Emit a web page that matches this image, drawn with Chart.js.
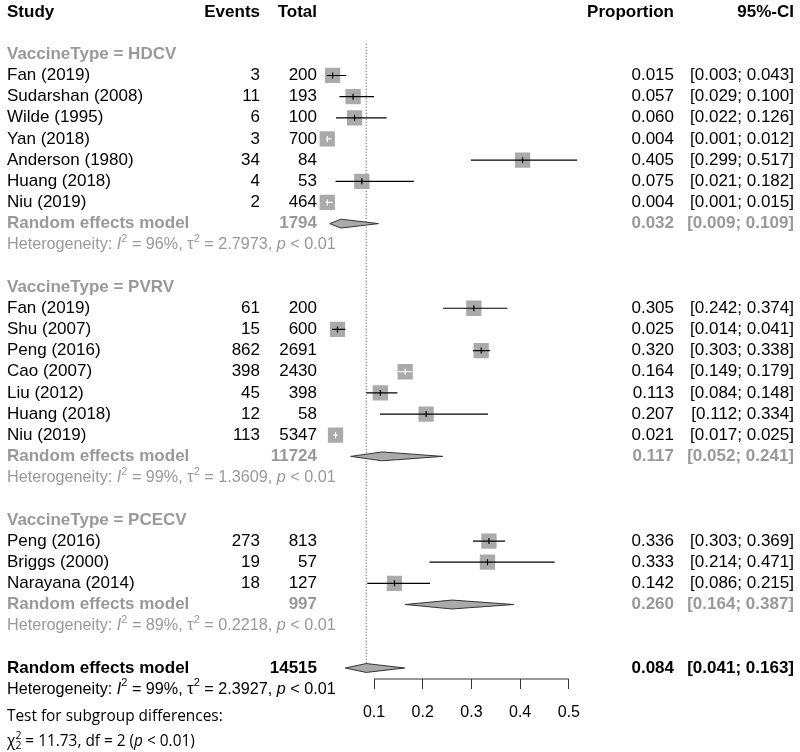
<!DOCTYPE html>
<html>
<head>
<meta charset="utf-8">
<script src="https://cdn.jsdelivr.net/npm/chart.js@4.4.1/dist/chart.umd.min.js"></script>
<style>
  html, body { margin: 0; padding: 0; background: #fff; }
  #wrap { width: 800px; height: 752px; position: relative; }
</style>
</head>
<body>
<div id="wrap"><canvas id="chart"></canvas></div>
<script>
// data
const groupNames = ["HDCV", "PVRV", "PCECV"];
const studyNames = [
  ["Fan (2019)", "Sudarshan (2008)", "Wilde (1995)", "Yan (2018)", "Anderson (1980)", "Huang (2018)", "Niu (2019)"],
  ["Fan (2019)", "Shu (2007)", "Peng (2016)", "Cao (2007)", "Liu (2012)", "Huang (2018)", "Niu (2019)"],
  ["Peng (2016)", "Briggs (2000)", "Narayana (2014)"]
];
const events = [[3, 11, 6, 3, 34, 4, 2], [61, 15, 862, 398, 45, 12, 113], [273, 19, 18]];
const totals = [[200, 193, 100, 700, 84, 53, 464], [200, 600, 2691, 2430, 398, 58, 5347], [813, 57, 127]];
const proportions = [
  [0.015, 0.057, 0.060, 0.004, 0.405, 0.075, 0.004],
  [0.305, 0.025, 0.320, 0.164, 0.113, 0.207, 0.021],
  [0.336, 0.333, 0.142]
];
const lowerCI = [
  [0.003, 0.029, 0.022, 0.001, 0.299, 0.021, 0.001],
  [0.242, 0.014, 0.303, 0.149, 0.084, 0.112, 0.017],
  [0.303, 0.214, 0.086]
];
const upperCI = [
  [0.043, 0.100, 0.126, 0.012, 0.517, 0.182, 0.015],
  [0.374, 0.041, 0.338, 0.179, 0.148, 0.334, 0.025],
  [0.369, 0.471, 0.215]
];

const subTotals = [1794, 11724, 997];
const subEst = [0.032, 0.117, 0.260];
const subLower = [0.009, 0.052, 0.164];
const subUpper = [0.109, 0.241, 0.387];
const subI2 = ["96%", "99%", "89%"];
const subTau2 = ["2.7973", "1.3609", "0.2218"];

const overallTotal = 14515;
const overallEst = 0.084;
const overallLower = 0.041;
const overallUpper = 0.163;
const overallI2 = "99%";
const overallTau2 = "2.3927";
const testChi2 = "11.73";
const testDf = 2;

const xTicks = [0.1, 0.2, 0.3, 0.4, 0.5];

// layout
const FONT = '"Liberation Sans", Arial, sans-serif';
const FONT2 = '"Open Sans", "Noto Sans", sans-serif';
const FS = 17;
const FS_HET = 16.2;
const FS_TEST = 15.4;
const GREY = "#999999";
const BOX_R = 10.8;
const HALF_BOX = BOX_R * Math.SQRT1_2;
const DIAMOND_H = 0.21;
const AXIS_ROW = 31.52;

// rows
const headerRow = [], studyRows = [], reRow = [], hetRow = [];
let r = 2;
groupNames.forEach((g, gi) => {
  headerRow[gi] = r++;
  studyRows[gi] = studyNames[gi].map(() => r++);
  reRow[gi] = r++;
  hetRow[gi] = r++;
  r++;
});
const overallRow = r;
const overallHetRow = r + 1;

function inside(chart, est, lo, hi) {
  const s = chart.scales.x;
  const c = s.getPixelForValue(est);
  return Math.max(c - s.getPixelForValue(lo), s.getPixelForValue(hi) - c) <= HALF_BOX;
}

const boxes = [];
const ciLines = [];
groupNames.forEach((g, gi) => {
  proportions[gi].forEach((p, i) => {
    const row = studyRows[gi][i];
    boxes.push({ x: p, y: row, lo: lowerCI[gi][i], hi: upperCI[gi][i] });
    ciLines.push({ x: lowerCI[gi][i], y: row, est: p, lo: lowerCI[gi][i], hi: upperCI[gi][i] });
    ciLines.push({ x: upperCI[gi][i], y: row, est: p, lo: lowerCI[gi][i], hi: upperCI[gi][i] });
    ciLines.push({ x: upperCI[gi][i], y: null });
  });
});

function diamond(est, lo, hi, row) {
  return {
    type: "line",
    data: [
      { x: lo, y: row }, { x: est, y: row - DIAMOND_H }, { x: hi, y: row },
      { x: est, y: row + DIAMOND_H }, { x: lo, y: row }
    ],
    fill: "shape",
    backgroundColor: "#aaaaaa",
    borderColor: "#333333",
    borderWidth: 1,
    pointRadius: 0,
    tension: 0,
    order: 4
  };
}

const datasets = [
  {
    type: "line",
    data: [{ x: overallEst, y: 1.5 }, { x: overallEst, y: overallRow - DIAMOND_H }],
    borderColor: "#444444",
    borderWidth: 1,
    borderDash: [1, 2],
    pointRadius: 0,
    order: 6
  },
  {
    type: "scatter",
    data: boxes,
    pointStyle: "rect",
    pointRadius: BOX_R,
    backgroundColor: "#aaaaaa",
    borderWidth: 0,
    order: 5
  },
  {
    type: "line",
    data: ciLines,
    borderWidth: 1.2,
    borderColor: "#000000",
    pointRadius: 0,
    segment: {
      borderColor: sc => {
        const d = sc.chart.data.datasets[sc.datasetIndex].data[sc.p0DataIndex];
        return inside(sc.chart, d.est, d.lo, d.hi) ? "#ffffff" : "#000000";
      }
    },
    order: 2
  },
  {
    type: "scatter",
    data: boxes,
    pointStyle: "line",
    rotation: 90,
    pointRadius: 3,
    borderWidth: 1.2,
    borderColor: c => (c.raw && inside(c.chart, c.raw.x, c.raw.lo, c.raw.hi)) ? "#ffffff" : "#000000",
    order: 1
  },
  {
    // axis line, spanning the tick range only
    type: "line",
    data: [{ x: xTicks[0], y: AXIS_ROW }, { x: xTicks[xTicks.length - 1], y: AXIS_ROW }],
    borderColor: "#333333",
    borderWidth: 1,
    pointRadius: 0,
    clip: false,
    order: 0
  }
];
groupNames.forEach((g, gi) => datasets.push(diamond(subEst[gi], subLower[gi], subUpper[gi], reRow[gi])));
datasets.push(diamond(overallEst, overallLower, overallUpper, overallRow));

function rich(ctx, parts, x, y, size, color, bold, family) {
  let cx = x;
  ctx.fillStyle = color;
  ctx.textAlign = "left";
  parts.forEach(p => {
    const o = typeof p === "string" ? { t: p } : p;
    const s = (o.sup || o.sub) ? size * 0.68 : size;
    ctx.font = `${o.italic ? "italic " : ""}${bold ? "bold " : ""}${s}px ${family || FONT}`;
    const dy = o.sup ? -size * 0.36 : (o.sub ? size * 0.28 : 0);
    ctx.fillText(o.t, cx, y + dy);
    if (!o.noAdvance) cx += ctx.measureText(o.t).width;
  });
}

function txt(ctx, s, x, y, align, color, bold) {
  ctx.font = `${bold ? "bold " : ""}${FS}px ${FONT}`;
  ctx.fillStyle = color;
  ctx.textAlign = align;
  ctx.fillText(s, x, y);
}

const ciText = (lo, hi) => `[${lo.toFixed(3)}; ${hi.toFixed(3)}]`;
const hetParts = (i2, tau2) => [
  "Heterogeneity: ", { t: "I", italic: true }, { t: "2", sup: true }, ` = ${i2}, \u03c4`,
  { t: "2", sup: true }, ` = ${tau2}, `, { t: "p", italic: true }, " < 0.01"
];

const COL_STUDY = 7, COL_EVENTS = 260, COL_TOTAL = 317, COL_PROP = 674, COL_CI = 794;

const textPlugin = {
  id: "forestText",
  afterDraw(chart) {
    const ctx = chart.ctx;
    const Y = v => chart.scales.y.getPixelForValue(v);
    ctx.save();
    ctx.textBaseline = "middle";
    // header
    txt(ctx, "Study", COL_STUDY, Y(0), "left", "#000", true);
    txt(ctx, "Events", COL_EVENTS, Y(0), "right", "#000", true);
    txt(ctx, "Total", COL_TOTAL, Y(0), "right", "#000", true);
    txt(ctx, "Proportion", COL_PROP, Y(0), "right", "#000", true);
    txt(ctx, "95%-CI", COL_CI, Y(0), "right", "#000", true);

    groupNames.forEach((g, gi) => {
      txt(ctx, "VaccineType = " + g, COL_STUDY, Y(headerRow[gi]), "left", GREY, true);
      studyNames[gi].forEach((n, i) => {
        const y = Y(studyRows[gi][i]);
        txt(ctx, n, COL_STUDY, y, "left", "#000", false);
        txt(ctx, String(events[gi][i]), COL_EVENTS, y, "right", "#000", false);
        txt(ctx, String(totals[gi][i]), COL_TOTAL, y, "right", "#000", false);
        txt(ctx, proportions[gi][i].toFixed(3), COL_PROP, y, "right", "#000", false);
        txt(ctx, ciText(lowerCI[gi][i], upperCI[gi][i]), COL_CI, y, "right", "#000", false);
      });
      const yr = Y(reRow[gi]);
      txt(ctx, "Random effects model", COL_STUDY, yr, "left", GREY, true);
      txt(ctx, String(subTotals[gi]), COL_TOTAL, yr, "right", GREY, true);
      txt(ctx, subEst[gi].toFixed(3), COL_PROP, yr, "right", GREY, true);
      txt(ctx, ciText(subLower[gi], subUpper[gi]), COL_CI, yr, "right", GREY, true);
      rich(ctx, hetParts(subI2[gi], subTau2[gi]), COL_STUDY, Y(hetRow[gi]), FS_HET, GREY, false);
    });

    const yo = Y(overallRow);
    txt(ctx, "Random effects model", COL_STUDY, yo, "left", "#000", true);
    txt(ctx, String(overallTotal), COL_TOTAL, yo, "right", "#000", true);
    txt(ctx, overallEst.toFixed(3), COL_PROP, yo, "right", "#000", true);
    txt(ctx, ciText(overallLower, overallUpper), COL_CI, yo, "right", "#000", true);
    rich(ctx, hetParts(overallI2, overallTau2), COL_STUDY, Y(overallHetRow), FS_HET, "#000", false);

    rich(ctx, ["Test for subgroup differences:"], COL_STUDY, Y(overallHetRow + 1.28), FS_TEST, "#000", false, FONT2);
    rich(ctx, [
      "\u03c7", { t: "2", sup: true, noAdvance: true }, { t: "2", sub: true },
      ` = ${testChi2}, df = ${testDf} (`, { t: "p", italic: true }, " < 0.01)"
    ], COL_STUDY, Y(overallHetRow + 2.48), FS_TEST, "#000", false, FONT2);
    ctx.restore();
  }
};

new Chart(document.getElementById("chart"), {
  type: "scatter",
  data: { datasets },
  plugins: [textPlugin],
  options: {
    responsive: true,
    maintainAspectRatio: false,
    devicePixelRatio: 1,
    animation: false,
    events: [],
    layout: { padding: 0, autoPadding: false },
    plugins: { legend: { display: false }, tooltip: { enabled: false } },
    scales: {
      x: {
        type: "linear",
        bounds: "data",
        afterDataLimits: s => { s.min = -0.668; s.max = 0.9747; },
        afterBuildTicks: s => { s.ticks = xTicks.map(v => ({ value: v })); },
        afterFit: s => { s.height = 73; },
        grid: { drawOnChartArea: false, drawTicks: true, tickLength: 10, color: "#333333", lineWidth: 1 },
        border: { display: false },
        ticks: {
          callback: v => v.toFixed(1),
          font: { size: 16, family: FONT },
          color: "#000",
          padding: 14,
          maxRotation: 0,
          autoSkip: false
        }
      },
      y: {
        type: "linear",
        display: false,
        reverse: true,
        bounds: "data",
        afterDataLimits: s => { s.min = -0.567; s.max = AXIS_ROW; }
      }
    }
  }
});
</script>
</body>
</html>
